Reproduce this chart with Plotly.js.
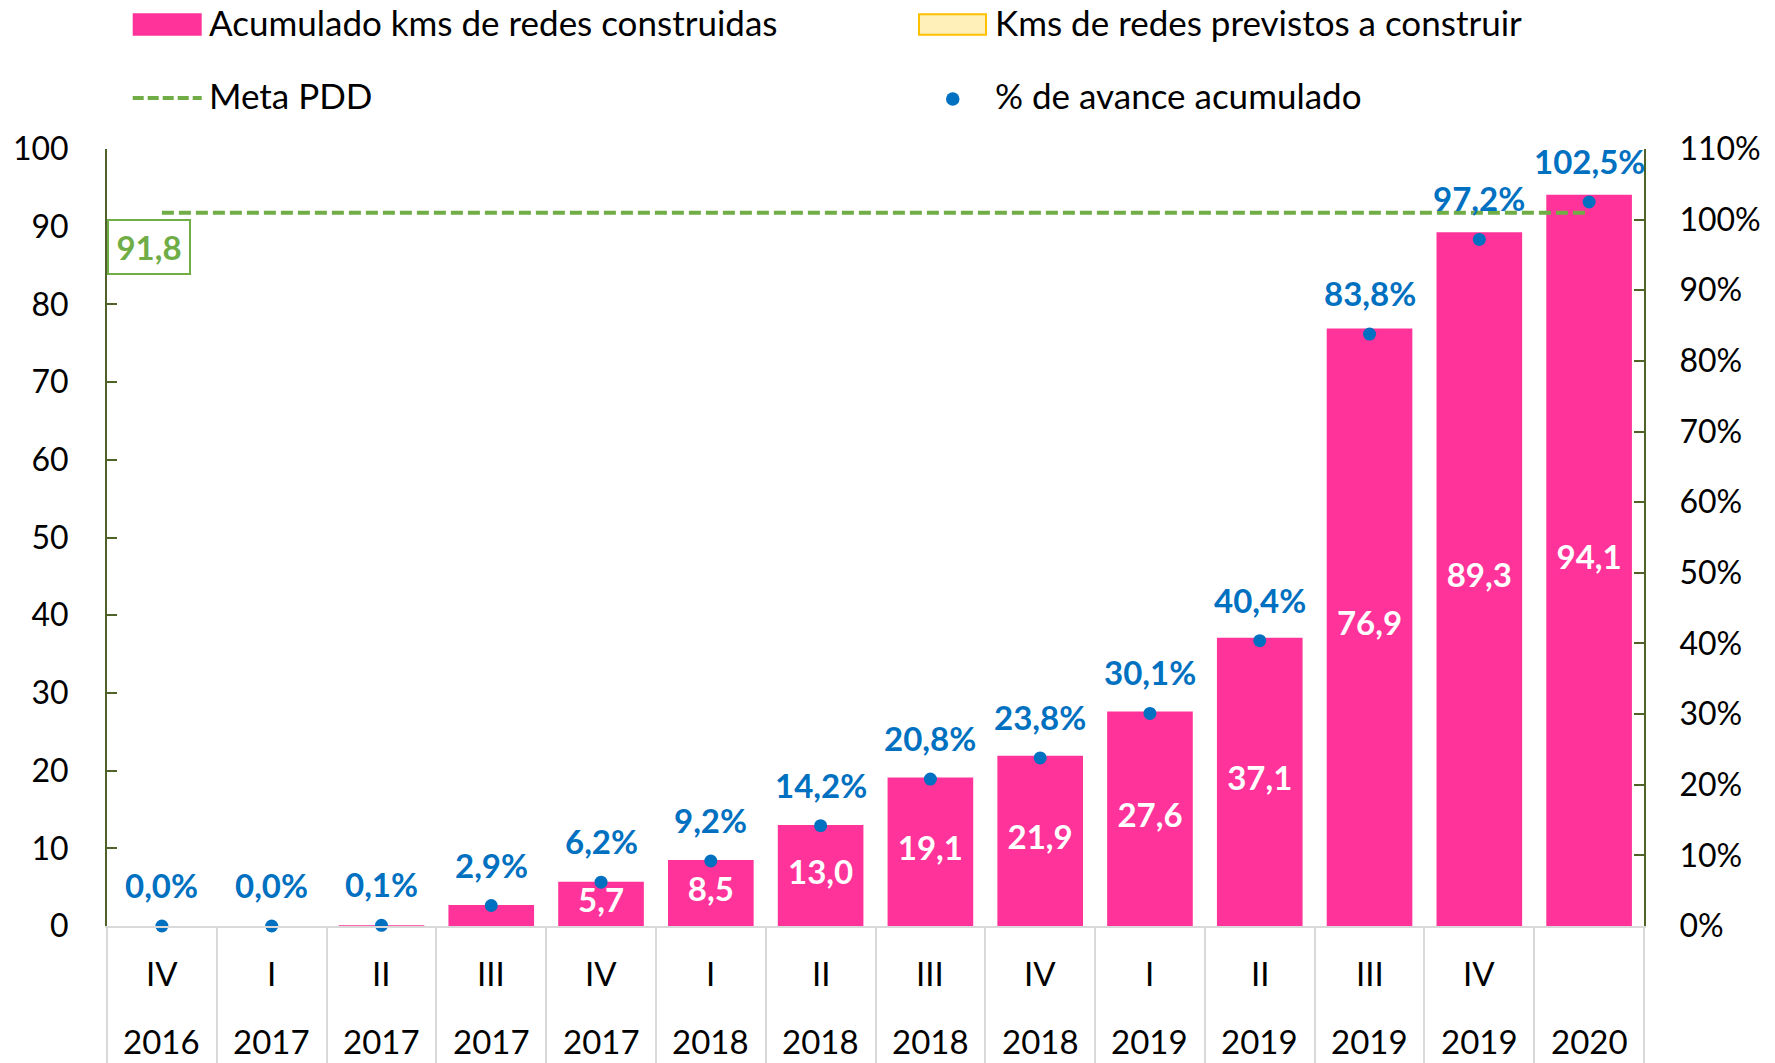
<!DOCTYPE html>
<html>
<head>
<meta charset="utf-8">
<script src="https://cdn.plot.ly/plotly-3.0.1.min.js"></script>
<style>
html,body{margin:0;padding:0;background:#ffffff;}
#chart{width:1775px;height:1063px;}
</style>
</head>
<body>
<div id="chart"></div>
<script>
// ---------- DATA ----------
const quarters = ['IV','I','II','III','IV','I','II','III','IV','I','II','III','IV',''];
const years    = ['2016','2017','2017','2017','2017','2018','2018','2018','2018','2019','2019','2019','2019','2020'];
const kms      = [0.0, 0.0, 0.1, 2.7, 5.7, 8.5, 13.0, 19.1, 21.9, 27.6, 37.1, 76.9, 89.3, 94.1];
const avance   = [0.000, 0.000, 0.001, 0.029, 0.062, 0.092, 0.142, 0.208, 0.238, 0.301, 0.404, 0.838, 0.972, 1.025];
const metaPDD  = 91.8;
const legendNames = ['Acumulado kms de redes construidas', 'Kms de redes previstos a construir', 'Meta PDD', '% de avance acumulado'];

// ---------- STYLE / GEOMETRY ----------
const FONT = 'Lato, "Open Sans", sans-serif';
const W = 1775, H = 1063;
const M = {l: 107, r: 131, t: 149, b: 137};
const pw = W - M.l - M.r, ph = H - M.t - M.b;
const fx = p => (p - M.l) / pw;          // pixel -> paper x
const fy = p => (H - M.b - p) / ph;      // pixel -> paper y
const fmt = (v, d) => v.toFixed(d).replace('.', ',');

const PINK = '#FF3399', BLUE = '#0070C0', GREEN = '#70AD47', AXIS = '#4F6228', GRID = '#D9D9D9';

const categories = quarters.map((q, i) => (q + ' ' + years[i]).trim());

const traces = [
  {
    type: 'bar', name: legendNames[0], x: categories, y: kms,
    marker: {color: PINK}, hoverinfo: 'skip'
  },
  {
    type: 'scatter', mode: 'text', x: categories, y: kms.map(v => v / 2),
    text: kms.map(v => v >= 5 ? '<b>' + fmt(v, 1) + '</b>' : ''),
    textposition: 'middle center',
    textfont: {family: FONT, size: 33, color: '#ffffff'},
    hoverinfo: 'skip'
  },
  {
    type: 'scatter', mode: 'lines', name: legendNames[2],
    x: [categories[0], categories[categories.length - 1]], y: [metaPDD, metaPDD],
    line: {color: GREEN, width: 4, dash: '12px,5px'}, hoverinfo: 'skip'
  },
  {
    type: 'scatter', mode: 'markers', name: legendNames[3], x: categories, y: avance, yaxis: 'y2',
    marker: {color: BLUE, size: 13}, cliponaxis: false, hoverinfo: 'skip'
  }
];

const annotations = [];
// percent labels (x given as category index)
avance.forEach((p, i) => {
  annotations.push({
    xref: 'x', yref: 'y2', x: i, y: p, yshift: 41,
    text: '<b>' + fmt(p * 100, 1) + '%</b>', showarrow: false,
    font: {family: FONT, size: 33, color: BLUE}
  });
});
// two-row category labels
categories.forEach((c, i) => {
  annotations.push({
    xref: 'x', yref: 'paper', x: i, y: fy(973.5), yanchor: 'middle',
    text: quarters[i], showarrow: false, font: {family: FONT, size: 33, color: '#000'}
  });
  annotations.push({
    xref: 'x', yref: 'paper', x: i, y: fy(1041), yanchor: 'middle',
    text: years[i], showarrow: false, font: {family: FONT, size: 33, color: '#000'}
  });
});
// Meta box label
annotations.push({
  xref: 'paper', yref: 'paper', x: fx(149.4), y: fy(246.7), xanchor: 'center', yanchor: 'middle',
  text: '<b>' + fmt(metaPDD, 1) + '</b>', showarrow: false,
  font: {family: FONT, size: 33, color: GREEN},
  bordercolor: GREEN, borderwidth: 2, borderpad: 1, width: 78, height: 50, bgcolor: '#ffffff'
});
// legend texts
const legendText = [
  {t: legendNames[0], x: 207, y: 21.5},
  {t: legendNames[1], x: 993, y: 21.5},
  {t: legendNames[2], x: 207, y: 95},
  {t: legendNames[3], x: 993, y: 95}
];
legendText.forEach(l => {
  annotations.push({
    xref: 'paper', yref: 'paper', x: fx(l.x), y: fy(l.y), xanchor: 'left', yanchor: 'middle',
    text: l.t, showarrow: false, font: {family: FONT, size: 35, color: '#000'}
  });
});

const shapes = [
  {type: 'rect', xref: 'paper', yref: 'paper', x0: fx(132.7), x1: fx(201.7), y0: fy(13.3), y1: fy(35.7),
   fillcolor: PINK, line: {width: 0}},
  {type: 'rect', xref: 'paper', yref: 'paper', x0: fx(919), x1: fx(986), y0: fy(14.3), y1: fy(34.7),
   fillcolor: '#FFEFB8', line: {color: '#FFC000', width: 2}},
  {type: 'line', xref: 'paper', yref: 'paper', x0: fx(132.7), x1: fx(201.7), y0: fy(98), y1: fy(98),
   line: {color: GREEN, width: 4, dash: '11px,4px'}},
  {type: 'circle', xref: 'paper', yref: 'paper', x0: fx(946), x1: fx(959.5), y0: fy(92.3), y1: fy(105.8),
   fillcolor: BLUE, line: {width: 0}}
];

const tickFont = {family: FONT, size: 32, color: '#000'};

const layout = {
  width: W, height: H,
  margin: M,
  paper_bgcolor: '#ffffff', plot_bgcolor: '#ffffff',
  showlegend: false,
  separators: ',.',
  bargap: 0.22,
  font: {family: FONT, color: '#000'},
  xaxis: {
    type: 'category', range: [-0.5, categories.length - 0.5],
    showline: true, linecolor: GRID, linewidth: 2,
    ticks: 'outside', tickson: 'boundaries', ticklen: 137, tickcolor: GRID, tickwidth: 2,
    showticklabels: false, showgrid: false, zeroline: false, fixedrange: true
  },
  yaxis: {
    range: [0, 100], tick0: 0, dtick: 10,
    showline: true, linecolor: AXIS, linewidth: 2,
    ticks: 'inside', ticklen: 10, tickwidth: 2, tickcolor: AXIS,
    showgrid: false, zeroline: false, tickfont: tickFont, ticklabelstandoff: 30
  },
  yaxis2: {
    overlaying: 'y', side: 'right', range: [0, 1.1], tick0: 0, dtick: 0.1, tickformat: '.0%',
    showline: true, linecolor: AXIS, linewidth: 2,
    ticks: 'inside', ticklen: 10, tickwidth: 2, tickcolor: AXIS,
    showgrid: false, zeroline: false, tickfont: tickFont, ticklabelstandoff: 27
  },
  annotations: annotations,
  shapes: shapes
};

Plotly.newPlot('chart', traces, layout, {displayModeBar: false, staticPlot: true});
</script>
</body>
</html>
